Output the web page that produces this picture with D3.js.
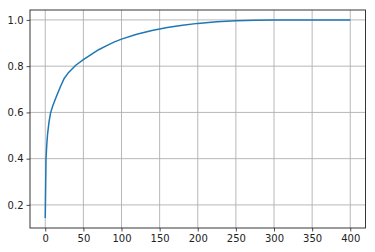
<!DOCTYPE html>
<html>
<head>
<meta charset="utf-8">
<script src="https://cdn.jsdelivr.net/npm/d3@7"></script>
<style>
  body { margin: 0; background: white; }
  #myPlot { width: 375px; height: 252px; }
  .tick text { font-family: "DejaVu Sans", sans-serif; font-size: 10px; fill: #222; }
</style>
</head>
<body>
<div id="myPlot"></div>
<script>
const rootSelector = "#myPlot"

// number of components vs cumulative explained variance
const components = [0, 1, 2, 3, 5, 7, 10, 15, 20, 25, 30, 40, 50, 60, 70, 80, 90, 100,
    120, 140, 160, 180, 200, 225, 250, 275, 300, 350, 400]
const cumVariance = [0.143, 0.40, 0.46, 0.505, 0.56, 0.598, 0.63, 0.672, 0.712, 0.748, 0.77, 0.804,
    0.828, 0.85, 0.871, 0.888, 0.904, 0.917, 0.938, 0.954, 0.967, 0.977, 0.985, 0.992, 0.996,
    0.998, 0.9995, 1.0, 1.0]
const xTicks = [0, 50, 100, 150, 200, 250, 300, 350, 400]
const yTicks = [0.2, 0.4, 0.6, 0.8, 1.0]

const margin = {top: 10, right: 9.5, bottom: 24, left: 30}
const clientWidth = 375
const clientHeight = 252
const width = clientWidth - margin.left - margin.right
const height = clientHeight - margin.top - margin.bottom

const svg = d3.select(rootSelector).append("svg")
    .attr("width", clientWidth)
    .attr("height", clientHeight)
    .append("g")
    .attr("transform", `translate(${margin.left}, ${margin.top})`)

// matplotlib style 5% margins around the data
const xPad = (d3.max(components) - d3.min(components)) * 0.05
const yPad = (d3.max(cumVariance) - d3.min(cumVariance)) * 0.05

const xScale = d3.scaleLinear()
    .domain([d3.min(components) - xPad, d3.max(components) + xPad])
    .range([0, width])

const yScale = d3.scaleLinear()
    .domain([d3.min(cumVariance) - yPad, d3.max(cumVariance) + yPad])
    .range([height, 0])

// grid
svg.append("g")
    .selectAll("line")
    .data(xTicks)
    .enter().append("line")
    .attr("x1", d => xScale(d)).attr("x2", d => xScale(d))
    .attr("y1", 0).attr("y2", height)
    .attr("stroke", "#b0b0b0").attr("stroke-width", 0.9)

svg.append("g")
    .selectAll("line")
    .data(yTicks)
    .enter().append("line")
    .attr("y1", d => yScale(d)).attr("y2", d => yScale(d))
    .attr("x1", 0).attr("x2", width)
    .attr("stroke", "#b0b0b0").attr("stroke-width", 0.9)

const line = d3.line()
    .x((d, i) => xScale(components[i]))
    .y(d => yScale(d))

svg.append("path")
    .datum(cumVariance)
    .attr("fill", "none")
    .attr("stroke", "#1f77b4")
    .attr("stroke-width", 1.5)
    .attr("stroke-linejoin", "round")
    .attr("d", line)

const xAxis = d3.axisBottom(xScale)
    .tickValues(xTicks)
    .tickSize(3.5)
    .tickPadding(3)
    .tickFormat(d3.format("d"))

const yAxis = d3.axisLeft(yScale)
    .tickValues(yTicks)
    .tickSize(3.5)
    .tickPadding(3)
    .tickFormat(d3.format(".1f"))

const gx = svg.append("g")
    .attr("transform", `translate(0, ${height})`)
    .call(xAxis)
const gy = svg.append("g").call(yAxis)

;[gx, gy].forEach(g => {
    g.select(".domain").remove()
    g.selectAll(".tick line").attr("stroke", "#222").attr("stroke-width", 0.8)
})

// frame
svg.append("rect")
    .attr("x", 0).attr("y", 0)
    .attr("width", width).attr("height", height)
    .attr("fill", "none")
    .attr("stroke", "#222")
    .attr("stroke-width", 0.9)
</script>
</body>
</html>
